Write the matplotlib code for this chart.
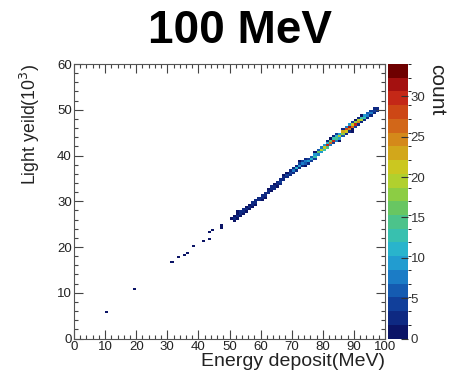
"""Light yield vs energy deposit, 2D histogram (100 MeV run)."""

import matplotlib

matplotlib.use("Agg")
import numpy as np
from matplotlib import pyplot as plt
from matplotlib.colors import BoundaryNorm, LinearSegmentedColormap, ListedColormap
from matplotlib.ticker import MultipleLocator
from matplotlib.transforms import ScaledTranslation

plt.rcParams["font.family"] = ["Liberation Sans", "DejaVu Sans"]

# filled bins, one line per energy column:
# energy bin low edge (MeV), light yield bin low edge (10^3), count
energy = [
	10, 19, 31, 33, 35, 36, 38, 41, 43, 43, 44, 47, 47, 50,
	51, 51, 51,
	52, 52, 52, 52,
	53, 53, 53,
	54, 54, 54,
	55, 55, 55,
	56, 56, 56,
	57, 57, 57,
	58, 58, 58,
	59, 59,
	60, 60, 60,
	61, 61, 61,
	62, 62, 62,
	63, 63, 63,
	64, 64, 64,
	65, 65, 65,
	66, 66, 66,
	67, 67, 67,
	68, 68, 68,
	69, 69, 69,
	70, 70, 70,
	71, 71, 71,
	72, 72, 72, 72,
	73, 73, 73,
	74, 74, 74, 74,
	75, 75, 75,
	76, 76, 76,
	77, 77, 77, 77,
	78, 78, 78,
	79, 79, 79,
	80, 80, 80,
	81, 81, 81, 81,
	82, 82, 82, 82,
	83, 83, 83, 83,
	84, 84, 84, 84,
	85, 85, 85, 85,
	86, 86, 86, 86,
	87, 87, 87, 87,
	88, 88, 88, 88,
	89, 89, 89, 89, 89,
	90, 90, 90, 90,
	91, 91, 91, 91,
	92, 92, 92, 92,
	93, 93, 93,
	94, 94, 94,
	95, 95, 95,
	96, 96, 96,
	97, 97,
]
light = [
	5.5, 10.5, 16.5, 17.5, 18.0, 18.5, 20.0, 21.0, 21.5, 23.0, 23.5, 24.0, 24.5, 26.0,
	25.5, 26.0, 26.5,
	26.0, 26.5, 27.0, 27.5,
	26.5, 27.0, 27.5,
	27.0, 27.5, 28.0,
	27.5, 28.0, 28.5,
	28.0, 28.5, 29.0,
	28.5, 29.0, 29.5,
	29.0, 29.5, 30.0,
	30.0, 30.5,
	30.0, 30.5, 31.0,
	30.5, 31.0, 31.5,
	31.5, 32.0, 32.5,
	32.0, 32.5, 33.0,
	32.5, 33.0, 33.5,
	33.0, 33.5, 34.0,
	33.5, 34.0, 34.5,
	34.5, 35.0, 35.5,
	35.0, 35.5, 36.0,
	35.5, 36.0, 36.5,
	36.0, 36.5, 37.0,
	36.5, 37.0, 37.5,
	37.0, 37.5, 38.0, 38.5,
	37.5, 38.0, 38.5,
	37.5, 38.0, 38.5, 39.0,
	38.0, 38.5, 39.0,
	38.5, 39.0, 39.5,
	39.0, 39.5, 40.0, 40.5,
	40.0, 40.5, 41.0,
	40.5, 41.0, 41.5,
	41.0, 41.5, 42.0,
	41.5, 42.0, 42.5, 43.0,
	42.0, 42.5, 43.0, 43.5,
	42.5, 43.0, 43.5, 44.0,
	43.0, 43.5, 44.0, 44.5,
	43.0, 43.5, 44.0, 44.5,
	44.0, 44.5, 45.0, 45.5,
	44.5, 45.0, 45.5, 46.0,
	45.0, 45.5, 46.0, 46.5,
	45.0, 45.5, 46.0, 46.5, 47.0,
	46.0, 46.5, 47.0, 47.5,
	46.5, 47.0, 47.5, 48.0,
	47.0, 47.5, 48.0, 48.5,
	47.5, 48.0, 48.5,
	48.0, 48.5, 49.0,
	48.5, 49.0, 49.5,
	49.0, 49.5, 50.0,
	49.5, 50.0,
]
counts = [
	1, 1, 1, 1, 1, 1, 1, 1, 1, 1, 1, 1, 1, 1,
	1, 2, 1,
	1, 2, 1, 1,
	1, 2, 2,
	1, 2, 2,
	1, 3, 1,
	1, 3, 1,
	1, 2, 2,
	1, 3, 2,
	2, 3,
	1, 3, 2,
	1, 3, 2,
	2, 3, 1,
	1, 3, 2,
	2, 3, 1,
	1, 3, 2,
	2, 4, 2,
	3, 3, 1,
	2, 4, 1,
	2, 5, 2,
	3, 8, 2,
	2, 11, 3,
	3, 9, 5, 1,
	2, 7, 4,
	1, 6, 8, 2,
	3, 9, 5,
	4, 11, 6,
	5, 13, 9, 1,
	8, 16, 6,
	10, 19, 7,
	12, 22, 9,
	14, 29, 11, 2,
	7, 26, 16, 1,
	5, 30, 12, 3,
	8, 14, 11, 4,
	1, 10, 19, 9,
	6, 17, 23, 2,
	3, 21, 28, 7,
	2, 24, 31, 9,
	1, 1, 27, 22, 5,
	4, 30, 18, 1,
	3, 25, 20, 2,
	2, 19, 13, 1,
	3, 12, 9,
	2, 8, 6,
	2, 7, 4,
	3, 5, 2,
	2, 3,
]

# bin edges
x_edges = np.linspace(0, 100, 101)
y_edges = np.linspace(0, 60, 121)
levels = np.linspace(0, 34, 21)

# ROOT-like rainbow palette, 20 contour levels
palette = LinearSegmentedColormap.from_list(
	"root_rainbow",
	[
		"#0b1466", "#0f3390", "#1559b0", "#1e8bd0", "#27b3cf", "#3cc3a6",
		"#5fc46a", "#95cf3c", "#c9d122", "#d3a31a", "#d4761a", "#cd4515",
		"#bf1a18", "#6e0000",
	],
)
cmap = ListedColormap(palette(np.linspace(0, 1, 20)))
norm = BoundaryNorm(levels, cmap.N)

fig = plt.figure(figsize=(4.5, 3.75), dpi=100)
ax = fig.add_axes([0.1644, 0.0973, 0.6912, 0.732])
cax = fig.add_axes([0.8622, 0.0973, 0.0444, 0.732])

# shift to bin centres so values never sit on an edge
x_c = np.asarray(energy) + 0.5
y_c = np.asarray(light) + 0.25
_, _, _, mesh = ax.hist2d(
	x_c, y_c, bins=[x_edges, y_edges], weights=counts, cmin=0.5, cmap=cmap, norm=norm,
)

ax.set_xlim(0, 100)
ax.set_ylim(0, 60)
ax.xaxis.set_major_locator(MultipleLocator(10))
ax.xaxis.set_minor_locator(MultipleLocator(2))
ax.yaxis.set_major_locator(MultipleLocator(10))
ax.yaxis.set_minor_locator(MultipleLocator(2))
ax.tick_params(
	which="both", direction="in", top=True, right=True, colors="#444444",
	labelcolor="#222222", labelsize=9.5, width=0.8,
)
ax.tick_params(which="major", length=6.5)
ax.tick_params(which="minor", length=3.2)
ax.tick_params(axis="x", pad=2)
ax.tick_params(axis="y", pad=1.5)
for spine in ax.spines.values():
	spine.set_color("#555555")
	spine.set_linewidth(0.8)

# ROOT puts the y "0" a little above the corner
zero_tick = ax.yaxis.get_major_ticks()[0]
zero_tick.label1.set_transform(
	zero_tick.label1.get_transform() + ScaledTranslation(0, 3 / 72, fig.dpi_scale_trans),
)

ax.set_xlabel("Energy deposit(MeV)", fontsize=14, loc="right", labelpad=0, color="#222222")
ax.set_ylabel(r"Light yeild(10$^{3}$)", fontsize=12.8, loc="top", labelpad=11, color="#222222")

cb = fig.colorbar(mesh, cax=cax, ticks=[0, 5, 10, 15, 20, 25, 30])
cb.outline.set_visible(False)
cax.tick_params(direction="in", length=5, width=0.8, colors="#333333", labelsize=9.5, pad=2)
fig.text(0.992, 0.83, "count", rotation=270, ha="right", va="top", fontsize=15, color="#222222")

fig.text(240 / 450, 0.976, "100 MeV", ha="center", va="top", fontsize=33, fontweight="bold")

fig.savefig("out.png", dpi=100)
